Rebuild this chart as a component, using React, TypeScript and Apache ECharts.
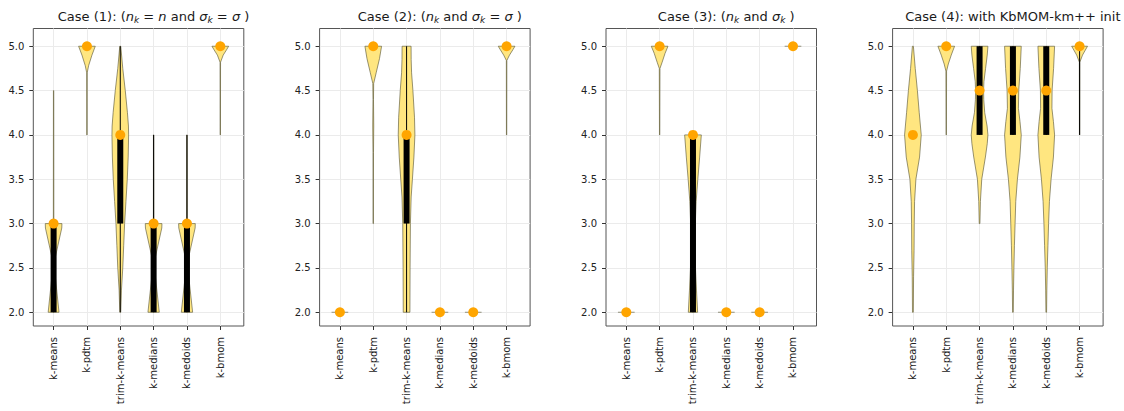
import React, { useEffect, useRef } from "react";
import * as echarts from "echarts";

// Methods compared in every panel (x positions 1..6)
const methods = ["k-means", "k-pdtm", "trim-k-means", "k-medians", "k-medoids", "k-bmom"];
const yTicks = [2.0, 2.5, 3.0, 3.5, 4.0, 4.5, 5.0];

// Violin outlines: [value, relative half-width] from bottom to top.
// A single point means every run gave the same value (flat violin).
const case1Profiles: number[][][] = [
  [[2.0, 0.65], [2.55, 0.04], [2.95, 0.98], [3.0, 1.0], [3.0, 0.03], [4.5, 0.02]],
  [[4.0, 0.02], [4.7, 0.03], [4.78, 0.2], [4.9, 0.6], [5.0, 1.0]],
  [[2.0, 0.06], [2.25, 0.14], [2.5, 0.3], [2.75, 0.41], [3.0, 0.52], [3.25, 0.68], [3.5, 0.84], [3.75, 0.95], [4.0, 1.0], [4.1, 0.98], [4.25, 0.86], [4.5, 0.6], [4.75, 0.3], [5.0, 0.06]],
  [[2.0, 0.68], [2.55, 0.04], [2.95, 0.98], [3.0, 1.0], [3.0, 0.03], [4.0, 0.02]],
  [[2.0, 0.68], [2.55, 0.04], [2.95, 0.98], [3.0, 1.0], [3.0, 0.03], [4.0, 0.02]],
  [[4.0, 0.02], [4.82, 0.03], [4.9, 0.35], [4.96, 0.75], [5.0, 1.0]],
];
const case2Profiles: number[][][] = [
  [[2.0, 1.0]],
  [[3.0, 0.02], [3.8, 0.03], [4.1, 0.06], [4.4, 0.03], [4.58, 0.05], [4.7, 0.35], [4.86, 0.75], [5.0, 1.0]],
  [[2.0, 0.4], [2.5, 0.42], [3.0, 0.46], [3.3, 0.55], [3.5, 0.7], [3.75, 0.88], [4.0, 1.0], [4.2, 0.95], [4.5, 0.76], [4.7, 0.6], [4.85, 0.55], [5.0, 0.54]],
  [[2.0, 1.0]],
  [[2.0, 1.0]],
  [[4.0, 0.02], [4.84, 0.03], [4.9, 0.35], [4.96, 0.75], [5.0, 1.0]],
];
const case3Profiles: number[][][] = [
  [[2.0, 1.0]],
  [[4.0, 0.02], [4.75, 0.04], [4.82, 0.3], [4.92, 0.65], [5.0, 1.0]],
  [[2.0, 0.56], [2.25, 0.42], [2.5, 0.3], [2.75, 0.25], [3.0, 0.28], [3.25, 0.38], [3.5, 0.58], [3.75, 0.8], [4.0, 1.0]],
  [[2.0, 1.0]],
  [[2.0, 1.0]],
  [[5.0, 1.0]],
];
const case4Profiles: number[][][] = [
  [[2.0, 0.05], [2.4, 0.08], [2.7, 0.14], [3.0, 0.16], [3.25, 0.2], [3.5, 0.36], [3.75, 0.8], [4.0, 1.0], [4.25, 0.76], [4.5, 0.54], [4.75, 0.28], [5.0, 0.06]],
  [[4.0, 0.02], [4.72, 0.04], [4.8, 0.25], [4.9, 0.6], [5.0, 1.0]],
  [[3.0, 0.04], [3.25, 0.1], [3.5, 0.26], [3.75, 0.7], [3.9, 0.92], [4.0, 1.0], [4.1, 0.9], [4.25, 0.62], [4.4, 0.5], [4.5, 0.48], [4.6, 0.52], [4.75, 0.72], [4.9, 0.92], [5.0, 1.0]],
  [[2.0, 0.04], [2.25, 0.07], [2.5, 0.12], [2.75, 0.18], [3.0, 0.26], [3.25, 0.34], [3.5, 0.54], [3.75, 0.84], [4.0, 1.0], [4.15, 0.85], [4.3, 0.66], [4.5, 0.7], [4.75, 0.88], [5.0, 1.0]],
  [[2.0, 0.04], [2.25, 0.07], [2.5, 0.12], [2.75, 0.2], [3.0, 0.28], [3.25, 0.38], [3.5, 0.58], [3.75, 0.86], [4.0, 1.0], [4.15, 0.86], [4.3, 0.68], [4.5, 0.7], [4.75, 0.88], [5.0, 1.0]],
  [[4.0, 0.02], [4.82, 0.03], [4.9, 0.35], [5.0, 0.95]],
];

// Summary per method: [whisker low, q1, median, q3, whisker high]
const case1Stats = [[2, 2, 3, 3, 3], [5, 5, 5, 5, 5], [2, 3, 4, 4, 5], [2, 2, 3, 3, 4], [2, 2, 3, 3, 4], [5, 5, 5, 5, 5]];
const case2Stats = [[2, 2, 2, 2, 2], [5, 5, 5, 5, 5], [2, 3, 4, 4, 5], [2, 2, 2, 2, 2], [2, 2, 2, 2, 2], [5, 5, 5, 5, 5]];
const case3Stats = [[2, 2, 2, 2, 2], [5, 5, 5, 5, 5], [2, 2, 4, 4, 4], [2, 2, 2, 2, 2], [2, 2, 2, 2, 2], [5, 5, 5, 5, 5]];
const case4Stats = [[4, 4, 4, 4, 4], [5, 5, 5, 5, 5], [4, 4, 4.5, 5, 5], [4, 4, 4.5, 5, 5], [4, 4, 4.5, 5, 5], [4, 5, 5, 5, 5]];

const caseTitles = [
  "Case (1): ({i|n}{s|k} = {i|n} and {i|σ}{s|k} = {i|σ} )",
  "Case (2): ({i|n}{s|k} and {i|σ}{s|k} = {i|σ} )",
  "Case (3): ({i|n}{s|k} and {i|σ}{s|k} )",
  "Case (4): with KbMOM-km++ init",
];

const panels = [
  { profiles: case1Profiles, stats: case1Stats },
  { profiles: case2Profiles, stats: case2Stats },
  { profiles: case3Profiles, stats: case3Stats },
  { profiles: case4Profiles, stats: case4Stats },
];

const FONT = "DejaVu Sans";
const GRID_LEFT = [33.3, 319.6, 606, 892.6];
const GRID_TOP = 28.5;
const GRID_W = 210.5;
const GRID_H = 297.5;
const HALF = 0.25; // half of violin width, in x units
const VIOLIN_FILL = "#FFE680";
const VIOLIN_EDGE = "rgba(95,92,60,0.65)";

function buildOption() {
  const grid: any[] = [];
  const xAxis: any[] = [];
  const yAxis: any[] = [];
  const series: any[] = [];
  const graphic: any[] = [];

  panels.forEach((p, k) => {
    grid.push({
      left: GRID_LEFT[k], top: GRID_TOP, width: GRID_W, height: GRID_H,
      show: true, borderColor: "#555", borderWidth: 1, backgroundColor: "transparent",
    });
    xAxis.push({
      type: "value", gridIndex: k, min: 0.391, max: 6.705,
      axisLine: { show: false },
      axisTick: { show: true, inside: false, length: 4, lineStyle: { color: "#333" }, customValues: [1, 2, 3, 4, 5, 6] },
      axisLabel: {
        customValues: [1, 2, 3, 4, 5, 6], rotate: 90, margin: 11,
        fontFamily: FONT, fontSize: 10, color: "#222",
        formatter: (v: number) => methods[Math.round(v) - 1] ?? "",
      },
      splitLine: { show: true, lineStyle: { color: "#ebebeb", width: 1 } },
    });
    yAxis.push({
      type: "value", gridIndex: k, min: 1.845, max: 5.2,
      axisLine: { show: false },
      axisTick: { show: true, inside: false, length: 4, lineStyle: { color: "#333" }, customValues: yTicks },
      axisLabel: {
        customValues: yTicks, margin: 9,
        fontFamily: FONT, fontSize: 10, color: "#222",
        formatter: (v: number) => v.toFixed(1),
      },
      splitLine: { show: true, lineStyle: { color: "#ebebeb", width: 1 } },
    });

    const profiles = p.profiles;
    const stats = p.stats;
    series.push({
      type: "custom", xAxisIndex: k, yAxisIndex: k,
      data: stats.map((s, i) => [i + 1, s[2]]),
      encode: { x: 0, y: 1 },
      z: 3,
      renderItem: (params: any, api: any) => {
        const i = params.dataIndex;
        const prof = profiles[i];
        const st = stats[i];
        const pos = i + 1;
        const children: any[] = [];
        if (prof.length === 1) {
          const a = api.coord([pos - HALF * prof[0][1], prof[0][0]]);
          const b = api.coord([pos + HALF * prof[0][1], prof[0][0]]);
          children.push({ type: "line", shape: { x1: a[0], y1: a[1], x2: b[0], y2: b[1] }, style: { stroke: VIOLIN_EDGE, lineWidth: 1 } });
        } else {
          const right = prof.map(([y, r]) => api.coord([pos + HALF * r, y]));
          const left = prof.slice().reverse().map(([y, r]) => api.coord([pos - HALF * r, y]));
          children.push({
            type: "polygon", shape: { points: right.concat(left) },
            style: { fill: VIOLIN_FILL, stroke: VIOLIN_EDGE, lineWidth: 1 },
          });
        }
        if (st[4] > st[0]) {
          const a = api.coord([pos, st[0]]);
          const b = api.coord([pos, st[4]]);
          children.push({ type: "line", shape: { x1: a[0], y1: a[1], x2: b[0], y2: b[1] }, style: { stroke: "#000", lineWidth: 1 } });
        }
        if (st[3] > st[1]) {
          const a = api.coord([pos, st[1]]);
          const b = api.coord([pos, st[3]]);
          children.push({ type: "line", shape: { x1: a[0], y1: a[1], x2: b[0], y2: b[1] }, style: { stroke: "#000", lineWidth: 6 } });
        }
        return { type: "group", children };
      },
    });
    series.push({
      type: "scatter", xAxisIndex: k, yAxisIndex: k,
      data: stats.map((s, i) => [i + 1, s[2]]),
      symbol: "circle", symbolSize: 10, z: 5,
      itemStyle: { color: "#FFA500", opacity: 1 },
    });

    graphic.push({
      type: "text",
      x: GRID_LEFT[k] + GRID_W / 2 + 15,
      y: 16,
      style: {
        text: caseTitles[k],
        fontFamily: FONT, fontSize: 13, fill: "#1a1a1a",
        align: "center", verticalAlign: "middle",
        lineHeight: 17,
        rich: {
          i: { fontFamily: FONT, fontSize: 13, fontStyle: "italic", lineHeight: 17, fill: "#1a1a1a" },
          s: { fontFamily: FONT, fontSize: 9, fontStyle: "italic", lineHeight: 9, verticalAlign: "bottom", fill: "#1a1a1a" },
        },
      },
    });
  });

  return { animation: false, backgroundColor: "#fff", grid, xAxis, yAxis, series, graphic };
}

export default function App() {
  const ref = useRef<HTMLDivElement>(null);
  useEffect(() => {
    if (!ref.current) return;
    const chart = echarts.init(ref.current, null, { renderer: "svg" });
    chart.setOption(buildOption() as any);
    return () => chart.dispose();
  }, []);
  return <div ref={ref} style={{ position: "absolute", left: 0, top: 0, width: 1124, height: 411 }} />;
}
